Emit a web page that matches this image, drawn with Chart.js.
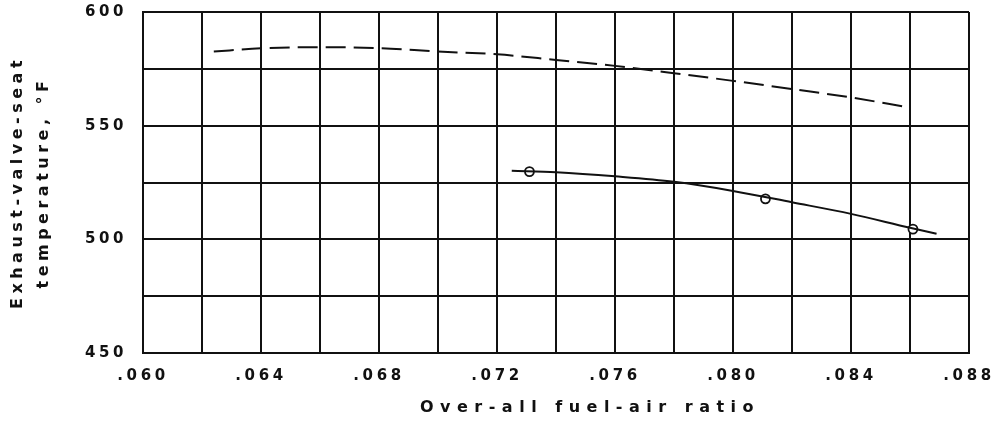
<!DOCTYPE html>
<html>
<head>
<meta charset="utf-8">
<script src="https://cdn.jsdelivr.net/npm/chart.js@4/dist/chart.umd.min.js"></script>
<style>
  html, body { margin: 0; padding: 0; background: #fff; }
  #wrap { width: 999px; height: 421px; position: relative; }
</style>
</head>
<body>
<div id="wrap"><canvas id="valveChart"></canvas></div>
<script>
// values
const xTicks = [0.060, 0.064, 0.068, 0.072, 0.076, 0.080, 0.084, 0.088];
const yTicks = [450, 500, 550, 600];

// dashed curve
const dashedX = [0.0624, 0.064, 0.066, 0.068, 0.070, 0.072, 0.074, 0.076, 0.078, 0.080, 0.082, 0.084, 0.0859];
const dashedY = [582.6, 584.0, 584.5, 584.1, 582.6, 581.4, 578.9, 576.3, 573.1, 569.7, 566.1, 562.4, 558.2];

// solid faired curve
const solidX = [0.0725, 0.074, 0.076, 0.078, 0.080, 0.082, 0.084, 0.086, 0.0869];
const solidY = [530.2, 529.5, 527.7, 525.3, 521.3, 516.3, 511.2, 505.1, 502.5];

// measured points (open circles)
const pointX = [0.0731, 0.0811, 0.0861];
const pointY = [529.8, 517.8, 504.5];

const toXY = (xs, ys) => xs.map((x, i) => ({ x: x, y: ys[i] }));

const INK = "#111";
const FONT = "'DejaVu Sans', sans-serif";

// wrap a scale's drawTitle so the axis title gets its own letter spacing / nudge
function spacedTitle(scale, spacing, dx) {
  if (scale._spacedTitle) return;
  const orig = scale.drawTitle;
  scale.drawTitle = function () {
    const ctx = this.ctx;
    ctx.save();
    ctx.letterSpacing = spacing;
    ctx.translate(dx, 0);
    orig.apply(this, arguments);
    ctx.restore();
  };
  scale._spacedTitle = true;
}

// wide typewriter-like spacing of the original lettering
const spacingPlugin = {
  id: "spacing",
  beforeLayout(chart) { chart.ctx.letterSpacing = "3.6px"; },
  afterUpdate(chart) {
    spacedTitle(chart.scales.x, "6.5px", 34);
    spacedTitle(chart.scales.y, "4.5px", 0);
  },
  beforeDraw(chart) { chart.ctx.letterSpacing = "3.6px"; }
};

new Chart(document.getElementById("valveChart"), {
  type: "scatter",
  data: {
    datasets: [
      {
        label: "dashed",
        data: toXY(dashedX, dashedY),
        showLine: true,
        borderColor: INK,
        borderWidth: 2,
        borderDash: [20, 8],
        pointRadius: 0,
        tension: 0.4,
        cubicInterpolationMode: "monotone"
      },
      {
        label: "solid",
        data: toXY(solidX, solidY),
        showLine: true,
        borderColor: INK,
        borderWidth: 2,
        pointRadius: 0,
        tension: 0.4,
        cubicInterpolationMode: "monotone"
      },
      {
        label: "points",
        data: toXY(pointX, pointY),
        showLine: false,
        pointRadius: 4.5,
        pointBackgroundColor: "#fff",
        pointBorderColor: INK,
        pointBorderWidth: 1.8
      }
    ]
  },
  options: {
    responsive: true,
    maintainAspectRatio: false,
    animation: false,
    layout: { padding: 0 },
    plugins: { legend: { display: false }, tooltip: { enabled: false } },
    scales: {
      x: {
        type: "linear",
        min: 0.060,
        max: 0.088,
        afterFit: s => { s.height = 68; s.paddingLeft = 0; s.paddingRight = 30; },
        ticks: {
          stepSize: 0.002,
          color: INK,
          padding: 14,
          maxRotation: 0,
          autoSkip: false,
          font: { family: FONT, size: 15, weight: "bold" },
          callback: v => {
            const hit = xTicks.find(t => Math.abs(t - v) < 1e-6);
            return hit === undefined ? "" : hit.toFixed(3).replace(/^0/, "");
          }
        },
        grid: { color: INK, lineWidth: 2, drawTicks: false },
        border: { color: INK, width: 2 },
        title: {
          display: true,
          text: "Over-all fuel-air ratio",
          color: INK,
          padding: { top: 0, bottom: 3 },
          font: { family: FONT, size: 16, weight: "bold", lineHeight: 1.3 }
        }
      },
      y: {
        min: 450,
        max: 600,
        afterFit: s => { s.width = 143; s.paddingTop = 12; s.paddingBottom = 0; },
        ticks: {
          stepSize: 25,
          color: INK,
          padding: 16,
          font: { family: FONT, size: 15, weight: "bold" },
          callback: v => (yTicks.includes(v) ? String(v) : "")
        },
        grid: { color: INK, lineWidth: 2, drawTicks: false },
        border: { color: INK, width: 2 },
        title: {
          display: true,
          text: ["Exhaust-valve-seat", "temperature, \u00B0F"],
          color: INK,
          padding: { top: 5, bottom: 0 },
          font: { family: FONT, size: 16, weight: "bold", lineHeight: 1.6 }
        }
      }
    }
  },
  plugins: [spacingPlugin]
});
</script>
</body>
</html>
